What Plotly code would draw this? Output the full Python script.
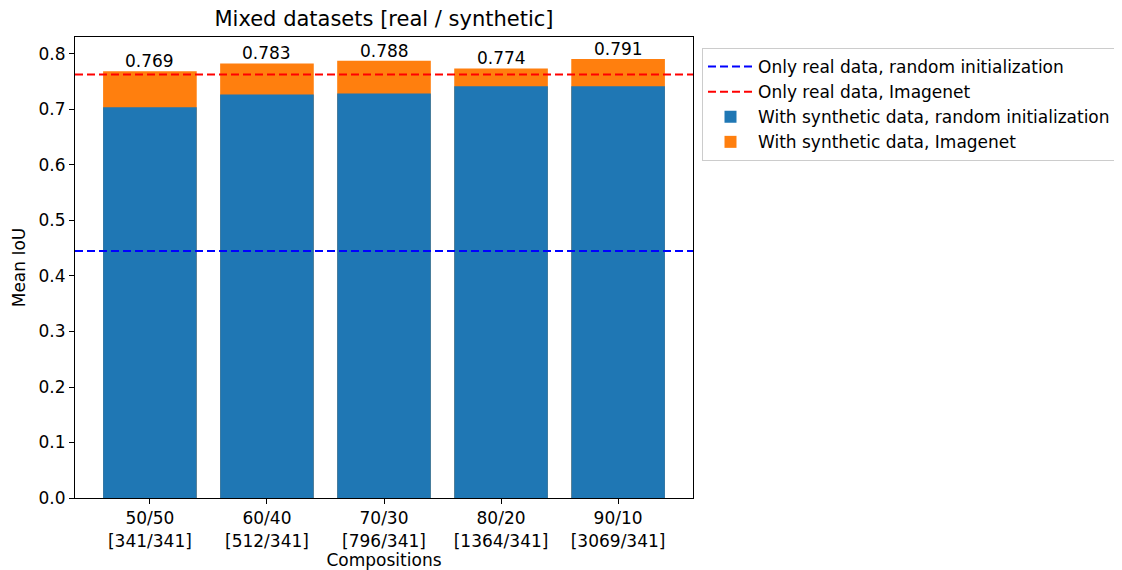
import plotly.graph_objects as go

categories = ["50/50<br>[341/341]", "60/40<br>[512/341]", "70/30<br>[796/341]",
              "80/20<br>[1364/341]", "90/10<br>[3069/341]"]
synthetic_random = [0.704, 0.727, 0.729, 0.742, 0.742]
synthetic_imagenet = [0.769, 0.783, 0.788, 0.774, 0.791]
real_random = 0.445
real_imagenet = 0.763

x = list(range(len(categories)))
xmin, xmax = -0.64, len(categories) - 1 + 0.64
font = "DejaVu Sans"
FS = 17

fig = go.Figure()
fig.add_trace(go.Bar(x=x, y=synthetic_imagenet, width=0.8, marker=dict(color="#ff7f0e", line=dict(width=0)),
                     name="With synthetic data, Imagenet", legendgroup="d", legendrank=4))
fig.add_trace(go.Bar(x=x, y=synthetic_random, width=0.8, marker=dict(color="#1f77b4", line=dict(width=0)),
                     name="With synthetic data, random initialization", legendgroup="c", legendrank=3))
fig.add_trace(go.Scatter(x=[xmin, xmax], y=[real_random] * 2, mode="lines",
                         line=dict(color="blue", dash="8px,4px", width=2),
                         name="Only real data, random initialization", legendgroup="a", legendrank=1))
fig.add_trace(go.Scatter(x=[xmin, xmax], y=[real_imagenet] * 2, mode="lines",
                         line=dict(color="red", dash="8px,4px", width=2),
                         name="Only real data, Imagenet", legendgroup="b", legendrank=2))

for xi, v in zip(x, synthetic_imagenet):
    fig.add_annotation(x=xi, y=v, text=f"{v:.3f}", showarrow=False, xref="x", yref="y",
                       yanchor="bottom", yshift=-2, font=dict(family=font, size=FS, color="black"))

L, T, PW, PH = 67, 29, 618, 461
W, H = 1114, 562
fig.update_layout(
    width=W, height=H, barmode="overlay",
    margin=dict(l=L, r=W - L - PW, t=T, b=H - T - PH, autoexpand=False),
    plot_bgcolor="white", paper_bgcolor="white",
    font=dict(family=font, size=FS, color="black"),
    title=dict(text="Mixed datasets [real / synthetic]", x=(L + PW / 2) / W, xanchor="center",
               y=1 - 11 / H, yanchor="middle", font=dict(size=21)),
    legend=dict(x=(694 - L) / PW, y=(PH + T - 40) / PH, xanchor="left", yanchor="top",
                bordercolor="#cccccc", borderwidth=1, font=dict(size=FS), tracegroupgap=8.5,
                itemwidth=45, traceorder="normal"),
    xaxis=dict(range=[xmin, xmax], tickmode="array", tickvals=x, ticktext=categories,
               tickfont=dict(size=FS), automargin=False,
               showline=True, linecolor="black", linewidth=1, mirror=True,
               ticks="outside", ticklen=5, tickcolor="black", showgrid=False, zeroline=False,
               title=dict(text="Compositions", standoff=4, font=dict(size=FS))),
    yaxis=dict(range=[0, 0.8306], tickmode="array", tickvals=[i / 10 for i in range(9)],
               ticktext=[f"{i / 10:.1f}" for i in range(9)], tickfont=dict(size=FS),
               automargin=False,
               showline=True, linecolor="black", linewidth=1, mirror=True,
               ticks="outside", ticklen=5, tickcolor="black", showgrid=False, zeroline=False,
               title=dict(text="Mean IoU", standoff=8, font=dict(size=FS))),
)
fig.write_html("out.html")
